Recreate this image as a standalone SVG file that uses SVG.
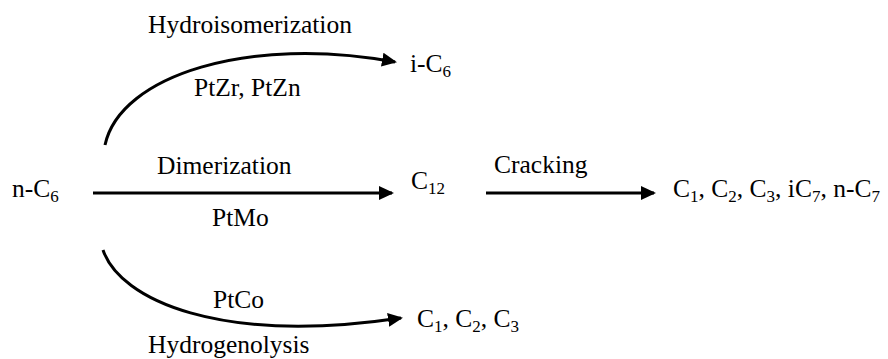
<svg xmlns="http://www.w3.org/2000/svg" width="888" height="359" viewBox="0 0 888 359">
<style>
text{font-family:'Liberation Serif','Tinos','DejaVu Serif','Noto Serif',serif;font-size:25.5px;fill:#000}
.sub{font-size:17px}
.c{fill:none;stroke:#000;stroke-width:3}
</style>
<defs>
<marker id="ah" markerUnits="userSpaceOnUse" markerWidth="16" markerHeight="16" refX="13" refY="7" orient="auto">
<path d="M0,0 L15,7 L0,14 z" fill="#000"/>
</marker>
</defs>
<rect width="888" height="359" fill="#fff"/>
<g id="connectors">
<path class="c" d="M105,145 C120,75 250,35 395,62" marker-end="url(#ah)"/>
<path class="c" d="M93,193 L392,193" marker-end="url(#ah)"/>
<path class="c" d="M486,193 L654,193" marker-end="url(#ah)"/>
<path class="c" d="M103,250 C120,300 220,345 401,318" marker-end="url(#ah)"/>
</g>
<g id="labels">
<text x="148" y="33">Hydroisomerization</text>
<text x="194" y="96">PtZr, PtZn</text>
<text x="157" y="174">Dimerization</text>
<text x="212" y="226">PtMo</text>
<text x="494" y="173">Cracking</text>
<text x="213" y="308">PtCo</text>
<text x="148" y="353">Hydrogenolysis</text>
</g>
<g id="n-C6"><text x="12" y="197">n-C<tspan class="sub" dy="5">6</tspan></text></g>
<g id="i-C6"><text x="410" y="72">i-C<tspan class="sub" dy="5">6</tspan></text></g>
<g id="C12"><text x="411" y="189">C<tspan class="sub" dy="5">12</tspan></text></g>
<g id="C1-C3"><text x="417" y="327">C<tspan class="sub" dy="5">1</tspan><tspan dy="-5">, C</tspan><tspan class="sub" dy="5">2</tspan><tspan dy="-5">, C</tspan><tspan class="sub" dy="5">3</tspan></text></g>
<g id="products"><text x="673" y="197">C<tspan class="sub" dy="5">1</tspan><tspan dy="-5">, C</tspan><tspan class="sub" dy="5">2</tspan><tspan dy="-5">, C</tspan><tspan class="sub" dy="5">3</tspan><tspan dy="-5">, iC</tspan><tspan class="sub" dy="5">7</tspan><tspan dy="-5">, n-C</tspan><tspan class="sub" dy="5">7</tspan></text></g>
</svg>
